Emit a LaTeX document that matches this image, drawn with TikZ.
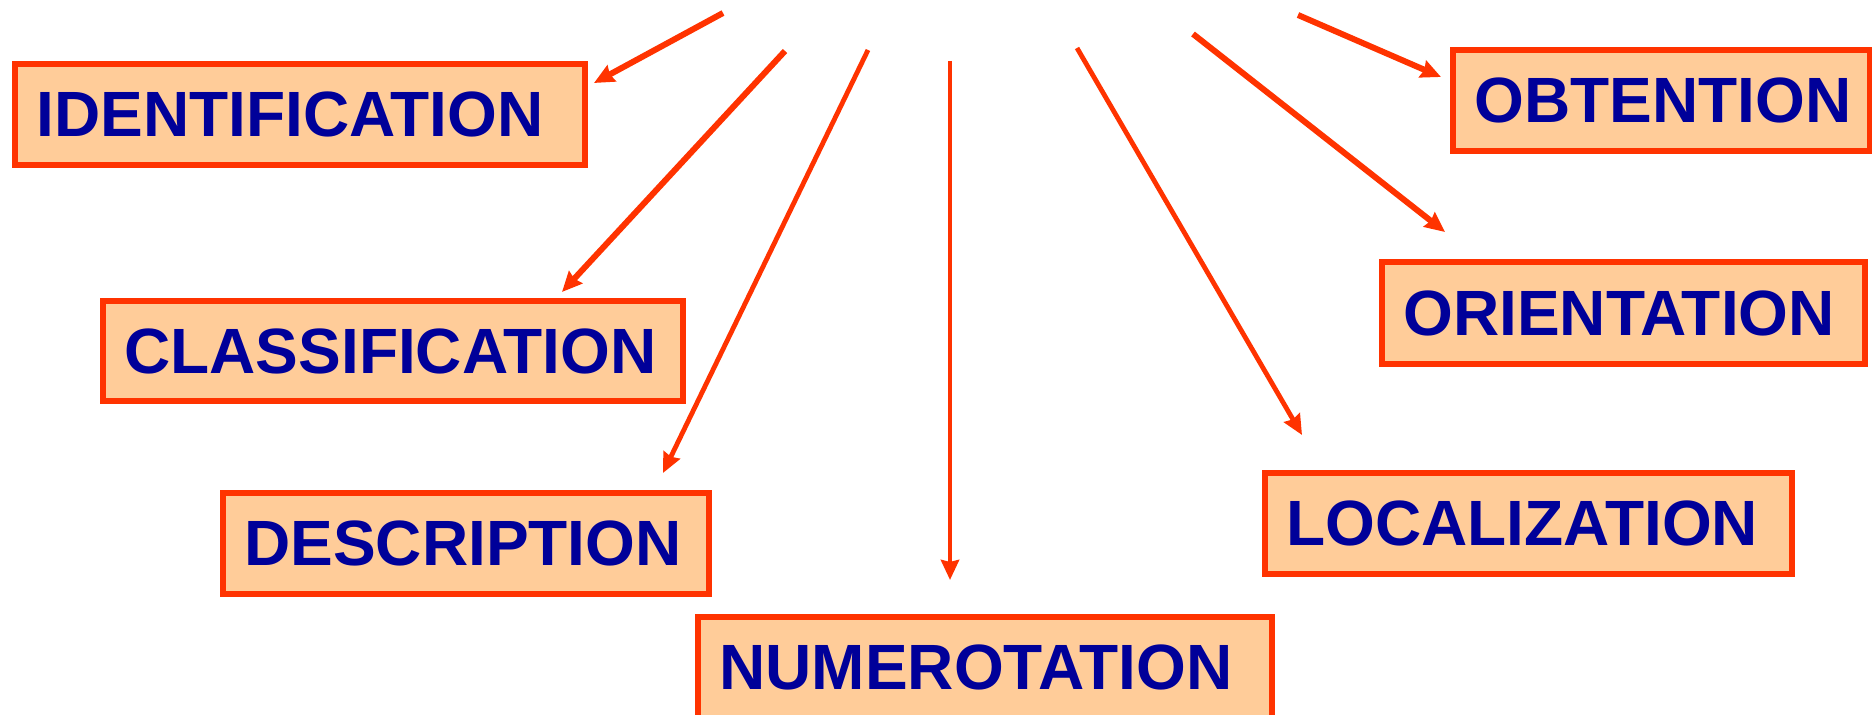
\documentclass[tikz,border=0pt]{standalone}
\usepackage{fontspec}
\setmainfont{Liberation Sans}
\usetikzlibrary{arrows.meta}
\definecolor{bordercol}{HTML}{FF3300}
\definecolor{fillcol}{HTML}{FFCC99}
\definecolor{textcol}{HTML}{000099}
\begin{document}
\begin{tikzpicture}[x=0.5pt,y=-0.5pt,
  box/.style={draw=bordercol, fill=fillcol, line width=3pt, inner sep=0pt, outer sep=0pt},
  lbl/.style={text=textcol, font=\fontsize{32}{36}\selectfont\bfseries, inner sep=0pt, anchor=west},
  conn/.style={draw=bordercol, line width=3pt, -{Stealth[length=10pt,width=9pt,inset=1pt]}},
  slim/.style={line width=2.4pt}]
\useasboundingbox (0,0) rectangle (1872,715);

% boxes
\node[box, minimum width=285pt, minimum height=50.5pt] (id) at (300,114.5) {};
\node[lbl] (idt) at (36,114.5) {IDENTIFICATION};
\node[box, minimum width=290pt, minimum height=50pt] (cl) at (393,351) {};
\node[lbl] (clt) at (124,351) {CLASSIFICATION};
\node[box, minimum width=243pt, minimum height=50.5pt] (de) at (466,543.5) {};
\node[lbl] (det) at (244,543.5) {DESCRIPTION};
\node[box, minimum width=287pt, minimum height=50.5pt] (nu) at (985,667.5) {};
\node[lbl] (nut) at (719,667.5) {NUMEROTATION};
\node[box, minimum width=263.5pt, minimum height=50.5pt] (lo) at (1528.5,523.5) {};
\node[lbl] (lot) at (1286,523.5) {LOCALIZATION};
\node[box, minimum width=241.5pt, minimum height=51pt] (or) at (1623.5,313) {};
\node[lbl] (ort) at (1403,313) {ORIENTATION};
\node[box, minimum width=208.5pt, minimum height=50.5pt] (ob) at (1661.5,100.5) {};
\node[lbl] (obt) at (1474,100.5) {OBTENTION};

% connector ends
\coordinate (s1) at (723,13);   \coordinate (t1) at (594,83);
\coordinate (s2) at (785,51);   \coordinate (t2) at (562,292);
\coordinate (s3) at (868,50);   \coordinate (t3) at (663,473);
\coordinate (s4) at (950,61);   \coordinate (t4) at (950,580);
\coordinate (s5) at (1077,48);  \coordinate (t5) at (1302,435);
\coordinate (s6) at (1193,34);  \coordinate (t6) at (1445,232);
\coordinate (s7) at (1298,15);  \coordinate (t7) at (1441,77);

\draw[conn] (s1) -- (t1);
\draw[conn] (s2) -- (t2);
\draw[conn, slim] (s3) -- (t3);
\draw[conn, slim] (s4) -- (t4);
\draw[conn, slim] (s5) -- (t5);
\draw[conn] (s6) -- (t6);
\draw[conn] (s7) -- (t7);
\end{tikzpicture}
\end{document}
